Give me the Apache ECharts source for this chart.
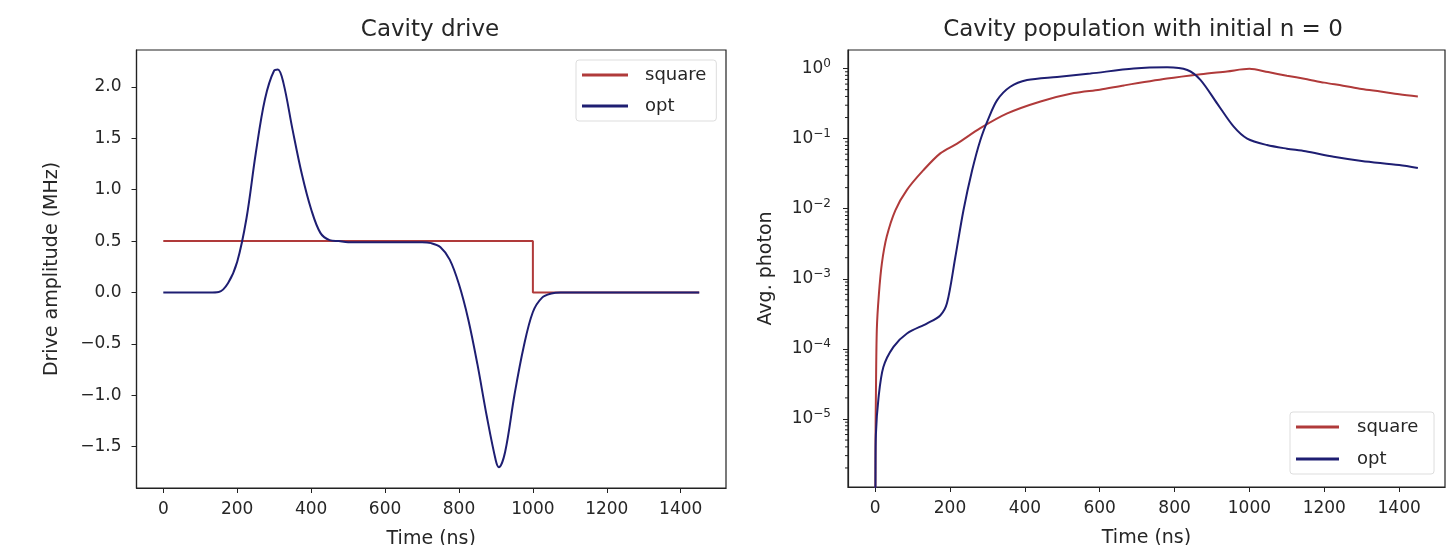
<!DOCTYPE html>
<html>
<head>
<meta charset="utf-8">
<title>Cavity drive / population</title>
<script src="https://cdn.jsdelivr.net/npm/echarts@6/dist/echarts.min.js"></script>
<style>
  html, body { margin: 0; padding: 0; background: #fff; }
  #chart { width: 1446px; height: 545px; }
</style>
</head>
<body>
<div id="chart"></div>
<script>
// ---- data ----
// left panel: drive amplitude (MHz) vs time (ns)
const squareDriveTime = [0, 1000, 1000, 1450];
const squareDrive = [0.5, 0.5, 0, 0];

const optDriveTime = [0, 25, 50, 75, 100, 125, 150, 175, 200, 225, 250, 275, 300, 310, 325, 350, 375, 400, 425, 450, 475, 500, 550, 600, 650, 700, 725, 750, 775, 800, 825, 850, 875, 900, 908, 925, 950, 975, 1000, 1025, 1050, 1075, 1100, 1200, 1300, 1400, 1450];
const optDrive = [0, 0, 0, 0, 0, 0, 0.005, 0.09, 0.3, 0.72, 1.35, 1.88, 2.16, 2.17, 2.04, 1.58, 1.15, 0.81, 0.58, 0.51, 0.5, 0.49, 0.49, 0.49, 0.49, 0.49, 0.48, 0.44, 0.32, 0.08, -0.26, -0.7, -1.2, -1.64, -1.7, -1.55, -1.0, -0.53, -0.19, -0.05, -0.01, 0, 0, 0, 0, 0, 0];

// right panel: average photon number vs time (ns), log scale
const squarePopTime = [0, 1, 2, 4.5, 10, 18, 31, 54, 85, 129, 174, 219, 281, 353, 442, 531, 600, 665, 780, 870, 940, 1000, 1050, 1100, 1150, 1200, 1250, 1300, 1350, 1400, 1450];
const squarePop = [1e-8, 5e-6, 2e-5, 1.9e-4, 6e-4, 1.66e-3, 4.0e-3, 9.5e-3, 0.0186, 0.0355, 0.0617, 0.085, 0.141, 0.229, 0.339, 0.447, 0.5, 0.575, 0.72, 0.83, 0.91, 0.99, 0.89, 0.79, 0.71, 0.63, 0.57, 0.51, 0.47, 0.43, 0.4];

const optPopTime = [0, 1, 2, 9, 22, 49, 85, 138, 174, 192, 214, 236, 259, 281, 303, 326, 361, 406, 486, 575, 691, 780, 834, 869, 914, 958, 994, 1047, 1100, 1150, 1225, 1300, 1400, 1450];
const optPop = [1e-8, 2e-6, 6e-6, 2.0e-5, 5.5e-5, 1.07e-4, 1.66e-4, 2.3e-4, 3.0e-4, 4.5e-4, 2.0e-3, 9.5e-3, 0.035, 0.095, 0.195, 0.355, 0.55, 0.685, 0.76, 0.85, 1.0, 1.04, 0.955, 0.69, 0.316, 0.148, 0.1, 0.081, 0.072, 0.066, 0.055, 0.048, 0.042, 0.038];

// tick labels
const timeTicks = [0, 200, 400, 600, 800, 1000, 1200, 1400];
const driveTicks = [-1.5, -1.0, -0.5, 0.0, 0.5, 1.0, 1.5, 2.0];
const popTicks = [1e-5, 1e-4, 1e-3, 1e-2, 1e-1, 1];
const minorMantissas = [2, 3, 4, 5, 6, 7, 8, 9];
const minorDecades = [1e-6, 1e-5, 1e-4, 1e-3, 1e-2, 1e-1];

// ---- style ----
const RED = '#b03a3a';
const BLUE = '#1e1e72';
const TXT = '#262626';
const FONT = 'DejaVu Sans';

const zip = (xs, ys) => xs.map((x, i) => [x, ys[i]]);
const minorTicks = [];
minorDecades.forEach(d => minorMantissas.forEach(m => minorTicks.push([0, m * d])));

const popMin = 1.07e-6, popMax = 1.84;

const minus = s => s.replace('-', '\u2212');
const baseX = {
  type: 'value', min: -72.5, max: 1522.5,
  name: 'Time (ns)', nameLocation: 'middle', nameGap: 42,
  nameTextStyle: { fontFamily: FONT, fontSize: 19, color: TXT },
  axisLine: { show: true, onZero: false, lineStyle: { color: '#222', width: 1.2 } },
  axisTick: { show: true, length: 5, lineStyle: { color: '#222' }, customValues: timeTicks },
  axisLabel: { fontFamily: FONT, fontSize: 17, color: TXT, margin: 13, customValues: timeTicks,
    formatter: v => String(v) },
  splitLine: { show: false }
};

const chart = echarts.init(document.getElementById('chart'), null, { renderer: 'canvas' });

chart.setOption({
  backgroundColor: '#fff',
  animation: false,
  title: [
    { text: 'Cavity drive', left: 425, top: 14, textAlign: 'center',
      textStyle: { fontFamily: FONT, fontSize: 23, fontWeight: 'normal', color: TXT } },
    { text: 'Cavity population with initial n = 0', left: 1138, top: 14, textAlign: 'center',
      textStyle: { fontFamily: FONT, fontSize: 23, fontWeight: 'normal', color: TXT } }
  ],
  grid: [
    { left: 136.5, top: 50, width: 589.5, height: 438, show: true, borderColor: '#222', borderWidth: 1.2,
      containLabel: false, outerBoundsMode: 'none' },
    { left: 848, top: 50, width: 597, height: 437, show: true, borderColor: '#222', borderWidth: 1.2,
      containLabel: false, outerBoundsMode: 'none' }
  ],
  legend: [
    { data: ['square', 'opt'], orient: 'vertical', left: 576, top: 60,
      icon: 'rect', itemWidth: 46, itemHeight: 3, itemGap: 13,
      padding: [6, 10, 6, 6], borderColor: '#ddd', borderWidth: 1, borderRadius: 3,
      backgroundColor: 'rgba(255,255,255,0.8)',
      textStyle: { fontFamily: FONT, fontSize: 18, color: TXT, padding: [0, 0, 0, 12] } },
    { data: ['square ', 'opt '], orient: 'vertical', left: 1290, top: 412,
      icon: 'rect', itemWidth: 43, itemHeight: 3, itemGap: 14,
      padding: [6, 10, 6, 6], borderColor: '#ddd', borderWidth: 1, borderRadius: 3,
      backgroundColor: 'rgba(255,255,255,0.8)',
      textStyle: { fontFamily: FONT, fontSize: 18, color: TXT, padding: [0, 0, 0, 13] } }
  ],
  xAxis: [
    Object.assign({ gridIndex: 0 }, baseX),
    Object.assign({ gridIndex: 1 }, baseX)
  ],
  yAxis: [
    { gridIndex: 0, type: 'value', min: -1.903, max: 2.36,
      name: 'Drive amplitude (MHz)', nameLocation: 'middle', nameGap: 75,
      nameTextStyle: { fontFamily: FONT, fontSize: 19, color: TXT },
      axisLine: { show: true, onZero: false, lineStyle: { color: '#222', width: 1.2 } },
      axisTick: { show: true, length: 5, lineStyle: { color: '#222' }, customValues: driveTicks },
      axisLabel: { fontFamily: FONT, fontSize: 17, color: TXT, margin: 15, customValues: driveTicks,
        formatter: v => minus(v.toFixed(1)) },
      splitLine: { show: false } },
    { gridIndex: 1, type: 'log', logBase: 10, min: popMin, max: popMax,
      name: 'Avg. photon', nameLocation: 'middle', nameGap: 72,
      nameTextStyle: { fontFamily: FONT, fontSize: 19, color: TXT },
      axisLine: { show: true, onZero: false, lineStyle: { color: '#222', width: 1.2 } },
      axisTick: { show: true, length: 5, lineStyle: { color: '#222' }, customValues: popTicks },
      axisLabel: { fontFamily: FONT, fontSize: 17, color: TXT, margin: 17, customValues: popTicks,
        formatter: v => '10{sup|' + minus(String(Math.round(Math.log10(v)))) + '}',
        rich: { sup: { fontFamily: FONT, fontSize: 12, color: TXT, padding: [0, 0, 10, 0] } } },
      splitLine: { show: false } }
  ],
  series: [
    { name: 'square', type: 'line', xAxisIndex: 0, yAxisIndex: 0, data: zip(squareDriveTime, squareDrive),
      showSymbol: false, symbol: 'none', lineStyle: { color: RED, width: 2 }, itemStyle: { color: RED } },
    { name: 'opt', type: 'line', xAxisIndex: 0, yAxisIndex: 0, data: zip(optDriveTime, optDrive),
      smooth: 0.35, showSymbol: false, symbol: 'none', lineStyle: { color: BLUE, width: 2 }, itemStyle: { color: BLUE } },
    { name: 'square ', type: 'line', xAxisIndex: 1, yAxisIndex: 1, data: zip(squarePopTime, squarePop),
      smooth: 0.3, showSymbol: false, symbol: 'none', lineStyle: { color: RED, width: 2 }, itemStyle: { color: RED } },
    { name: 'opt ', type: 'line', xAxisIndex: 1, yAxisIndex: 1, data: zip(optPopTime, optPop),
      smooth: 0.3, showSymbol: false, symbol: 'none', lineStyle: { color: BLUE, width: 2 }, itemStyle: { color: BLUE } },
    // minor ticks of the log axis (matplotlib style)
    { type: 'custom', xAxisIndex: 1, yAxisIndex: 1, silent: true, clip: false, data: minorTicks,
      renderItem: (params, api) => {
        const y = api.coord([0, api.value(1)])[1];
        const x0 = params.coordSys.x;
        return { type: 'line', shape: { x1: x0 - 3, y1: y, x2: x0, y2: y }, style: { stroke: '#222', lineWidth: 1 } };
      } }
  ]
});
</script>
</body>
</html>
